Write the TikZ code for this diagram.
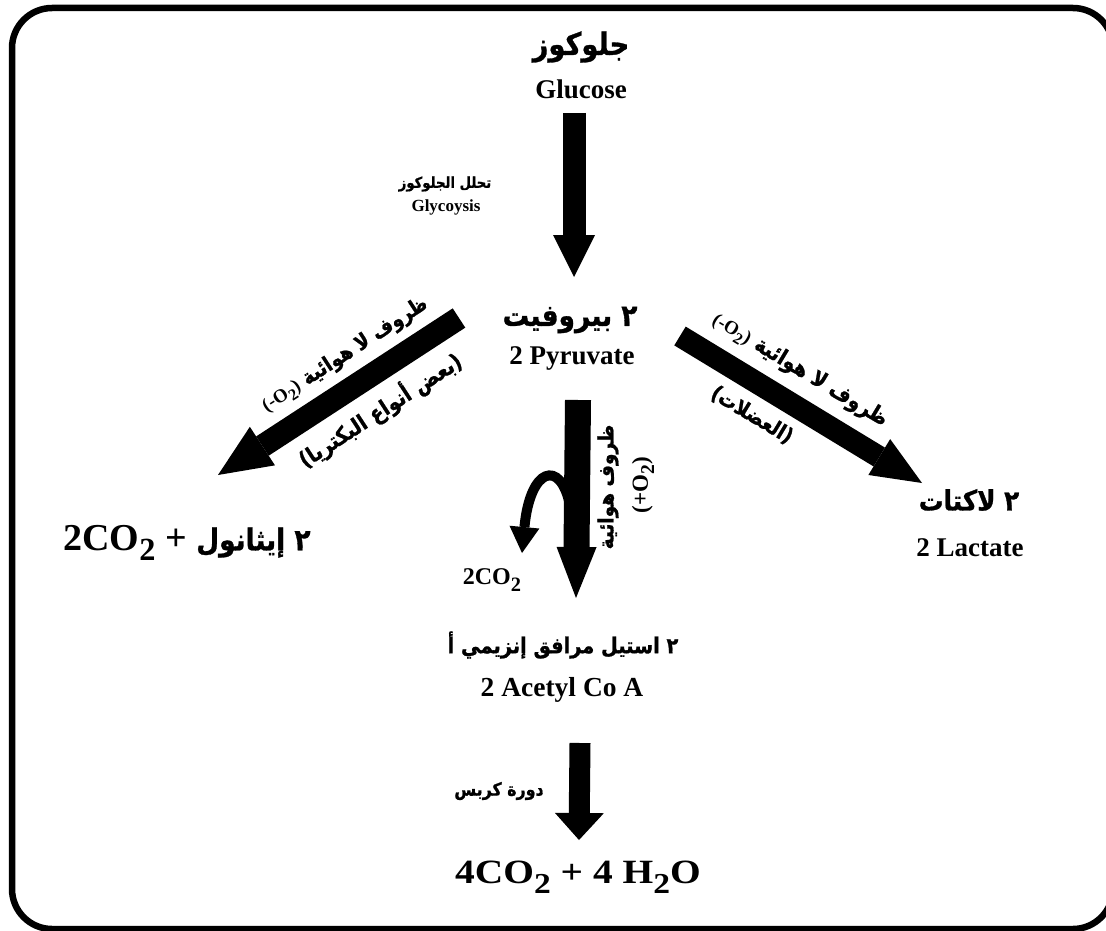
\documentclass[tikz,border=0pt]{standalone}
\usepackage{fontspec}
\usepackage{graphicx}
\usetikzlibrary{arrows.meta}
\TeXXeTstate=1
\setmainfont{Liberation Serif}
\newfontfamily\ar[Script=Arabic,FakeStretch=0.88,BoldFeatures={FakeBold=1}]{DejaVu Sans}
\newcommand\fs[1]{\fontsize{#1}{#1}\selectfont}
\newcommand\dn[1]{\raisebox{-0.28em}{\scalebox{0.85}{#1}}}
\begin{document}
\begin{tikzpicture}[x=1pt,y=-1pt,
  lab/.style={inner sep=0pt, text=black},
  fatarrow/.style n args={3}{line width=#1, line cap=butt,
     -{Triangle[width=#2,length=#3,line width=0pt]}},
  frame/.style={line width=6.5pt}]
\useasboundingbox (0,0) rectangle (1106,931);
\begin{scope}
\clip (0,0) rectangle (1106,931);
\draw[frame] (1113,48) .. controls (1113,26) and (1095,8) .. (1073,8)
  -- (52,8) .. controls (30,8) and (12,26) .. (12,48)
  -- (12,889) .. controls (12,911) and (30,929) .. (52,929)
  -- (1073,929) .. controls (1095,929) and (1113,911) .. (1113,889);
\end{scope}

% nodes
\node[lab] (gluar) at (581,47) {\ar\bfseries\fs{31}\beginR جلوكوز\endR};
\node[lab] (gluen) at (581,89) {\bfseries\fs{27}Glucose};
\node[lab] (glyar) at (445,184) {\ar\bfseries\fs{15}\beginR تحلل الجلوكوز\endR};
\node[lab] (glyen) at (446,207) {\bfseries\fs{17}Glycoysis};
\node[lab] (pyrar) at (570,320) {\ar\bfseries\fs{30}\beginR ٢ بيروفيت\endR};
\node[lab] (pyren) at (572,358) {\bfseries\fs{27}2 Pyruvate};
\node[lab] (lacar) at (969,500) {\ar\bfseries\fs{28}\beginR ٢ لاكتات\endR};
\node[lab] (lacen) at (970,548) {\bfseries\fs{27}2 Lactate};
\node[lab] (eth) at (187,543) {\bfseries\fs{38}2CO\dn{2} + {\ar\fs{30}\beginR ٢ إيثانول\endR}};
\node[lab] (co2) at (492,580) {\bfseries\fs{24}2CO\dn{2}};
\node[lab] (acear) at (563,645) {\ar\bfseries\fs{22}\beginR ٢ استيل مرافق إنزيمي أ\endR};
\node[lab] (aceen) at (562,690) {\bfseries\fs{27.5}2 Acetyl Co A};
\node[lab] (krebs) at (499,791) {\ar\bfseries\fs{18}\beginR دورة كربس\endR};
\node[lab] (final) at (578,877) {\scalebox{1.16}[1]{\bfseries\fs{34}4CO\dn{2} + 4 H\dn{2}O}};

% arrow labels
\node[lab, rotate=33] (l1) at (345,355) {\ar\bfseries\fs{21}\beginR ظروف لا هوائية \beginL{\rmfamily\fs{19}(-O\dn{2})}\endL\endR};
\node[lab, rotate=33] (l2) at (380,410) {\ar\bfseries\fs{22}\beginR(بعض أنواع البكتريا)\endR};
\node[lab, rotate=-31] (r1) at (800,370) {\ar\bfseries\fs{22}\beginR ظروف لا هوائية \beginL{\rmfamily\fs{19}(-O\dn{2})}\endL\endR};
\node[lab, rotate=-31] (r2) at (752,415) {\ar\bfseries\fs{21}\beginR(العضلات)\endR};
\node[lab, rotate=90] (m1) at (608,487) {\ar\bfseries\fs{21}\beginR ظروف هوائية\endR};
\node[lab, rotate=90] (m2) at (643,485) {\bfseries\fs{23}(+O\dn{2})};

% arrow end points
\coordinate (a1s) at (574,113);
\coordinate (a1e) at (574,277);
\coordinate (a2s) at (578,400);
\coordinate (a2e) at (576,598);
\coordinate (a3s) at (580,743);
\coordinate (a3e) at (579,840);
\coordinate (ls) at (459,318);
\coordinate (le) at (218,475);
\coordinate (rs) at (680,336);
\coordinate (re) at (922,483);
\coordinate (cs) at (570,505);
\coordinate (ce) at (522,553);

\draw[fatarrow={23pt}{42pt}{42pt}] (a1s) -- (a1e);
\draw[fatarrow={26pt}{40pt}{51pt}] (a2s) -- (a2e);
\draw[fatarrow={21pt}{49pt}{27pt}] (a3s) -- (a3e);
\draw[fatarrow={23pt}{46pt}{53pt}] (ls) -- (le);
\draw[fatarrow={22pt}{42pt}{50pt}] (rs) -- (re);
\draw[line width=10pt, -{Triangle[width=30pt,length=26pt,line width=0pt]}]
  (cs) .. controls (560,458) and (530,468) .. (ce);
\end{tikzpicture}
\end{document}
